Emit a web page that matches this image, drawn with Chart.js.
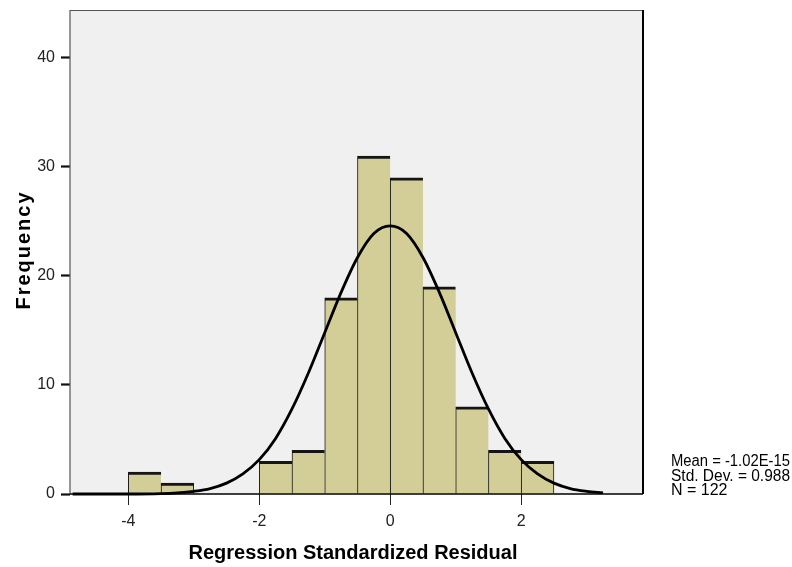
<!DOCTYPE html>
<html>
<head>
<meta charset="utf-8">
<script src="https://cdn.jsdelivr.net/npm/chart.js@4/dist/chart.umd.min.js"></script>
<style>
html,body{margin:0;padding:0;background:#fff;}
#wrap{width:792px;height:567px;position:relative;}
</style>
</head>
<body>
<div id="wrap"><canvas id="c" width="792" height="567"></canvas></div>
<script>
// Histogram bins (centres, bin width 0.5) and frequencies
const binCenters = [-3.75, -3.25, -1.75, -1.25, -0.75, -0.25, 0.25, 0.75, 1.25, 1.75, 2.25];
const frequencies = [2, 1, 3, 4, 18, 31, 29, 19, 8, 4, 3];
// Normal curve, values
const curveX = [-4.85, -4.5, -4.0, -3.5, -3.25, -3.0, -2.75, -2.5, -2.25, -2.0, -1.75, -1.5, -1.25, -1.0, -0.75, -0.5, -0.25, 0, 0.25, 0.5, 0.75, 1.0, 1.25, 1.5, 1.75, 2.0, 2.25, 2.5, 2.75, 3.0, 3.25];
const curveY = [0, 0, 0, 0.04, 0.11, 0.25, 0.5, 1.0, 1.85, 3.15, 5.1, 7.8, 11.1, 14.8, 18.5, 21.7, 23.9, 24.6, 23.9, 21.7, 18.5, 14.8, 11.1, 7.8, 5.1, 3.15, 1.85, 1.0, 0.5, 0.25, 0.11];
const xTicks = [-4, -2, 0, 2];
const yTicks = [0, 10, 20, 30, 40];
const xTitle = 'Regression Standardized Residual';
const yTitle = 'Frequency';
const statsLines = ['Mean = -1.02E-15', 'Std. Dev. = 0.988', 'N = 122'];

const NARROW = "'Liberation Sans Narrow', 'Arial Narrow', 'Liberation Sans', Arial, sans-serif";
const SANS = "'Liberation Sans', Arial, sans-serif";

const barData = binCenters.map((x, i) => ({x: x, y: frequencies[i]}));
const curveData = curveX.map((x, i) => ({x: x, y: curveY[i]}));

const decor = {
  id: 'decor',
  beforeDraw(chart) {
    const {ctx, chartArea: a} = chart;
    ctx.save();
    ctx.fillStyle = '#ffffff';
    ctx.fillRect(0, 0, chart.width, chart.height);
    ctx.fillStyle = '#f0f0f0';
    ctx.fillRect(a.left, a.top, a.right - a.left, a.bottom - a.top);
    ctx.restore();
  },
  afterDraw(chart) {
    const {ctx, chartArea: a} = chart;
    ctx.save();
    // frame
    ctx.strokeStyle = '#555';
    ctx.lineWidth = 1.2;
    ctx.beginPath();
    ctx.moveTo(a.left, a.bottom); ctx.lineTo(a.left, a.top + 0.5); ctx.lineTo(a.right, a.top + 0.5);
    ctx.stroke();
    ctx.strokeStyle = '#000';
    ctx.lineWidth = 2;
    ctx.beginPath();
    ctx.moveTo(a.right, a.top); ctx.lineTo(a.right, a.bottom);
    ctx.stroke();
    ctx.lineWidth = 1.5;
    ctx.beginPath();
    ctx.moveTo(a.left, a.bottom); ctx.lineTo(a.right, a.bottom);
    ctx.stroke();
    // titles
    ctx.fillStyle = '#000';
    ctx.font = 'bold 20px ' + SANS;
    ctx.textAlign = 'center';
    ctx.textBaseline = 'alphabetic';
    ctx.fillText(xTitle, 353, 559);
    ctx.save();
    ctx.translate(30, 250);
    ctx.rotate(-Math.PI / 2);
    try { ctx.letterSpacing = '2px'; } catch (e) {}
    ctx.fillText(yTitle, 0, 0);
    ctx.restore();
    // stats
    ctx.font = '16px ' + NARROW;
    ctx.textAlign = 'left';
    statsLines.forEach((t, i) => ctx.fillText(t, 671, 466 + i * 14.5, 119));
    ctx.restore();
  }
};

new Chart(document.getElementById('c'), {
  type: 'bar',
  data: {
    datasets: [
      {
        type: 'line',
        label: 'Normal',
        data: curveData,
        borderColor: '#000',
        borderWidth: 2.8,
        pointRadius: 0,
        fill: false,
        cubicInterpolationMode: 'monotone',
        clip: false,
        order: 0
      },
      {
        type: 'bar',
        label: 'Frequency',
        data: barData,
        backgroundColor: 'rgb(211,206,152)',
        borderColor: '#151515',
        borderSkipped: false,
        borderWidth: (c) => {
          const i = c.dataIndex;
          const next = binCenters[i + 1];
          const runEnd = next === undefined || Math.abs(next - binCenters[i] - 0.5) > 1e-6;
          return {top: 3, left: 1, right: runEnd ? 1 : 0, bottom: 0};
        },
        barPercentage: 1,
        categoryPercentage: 1,
        grouped: false,
        order: 1
      }
    ]
  },
  options: {
    responsive: false,
    animation: false,
    events: [],
    layout: {padding: {left: 0, right: 149, top: 10, bottom: 0}},
    plugins: {legend: {display: false}, tooltip: {enabled: false}, title: {display: false}},
    scales: {
      x: {
        type: 'linear',
        min: -4.89,
        max: 3.86,
        offset: false,
        afterBuildTicks: (s) => { s.ticks = xTicks.map(v => ({value: v})); },
        afterFit: (s) => { s.height = 73; s.paddingLeft = 0; s.paddingRight = 0; },
        grid: {offset: false, drawOnChartArea: false, drawTicks: true, tickLength: 11, tickWidth: 1, tickColor: '#222'},
        border: {display: false},
        ticks: {color: '#222', font: {family: NARROW, size: 16}, padding: 7, maxRotation: 0, autoSkip: false}
      },
      y: {
        type: 'linear',
        min: 0,
        max: 44.4,
        afterBuildTicks: (s) => { s.ticks = yTicks.map(v => ({value: v})); },
        afterFit: (s) => { s.width = 70; s.paddingTop = 0; s.paddingBottom = 0; },
        grid: {offset: false, drawOnChartArea: false, drawTicks: true, tickLength: 9, tickWidth: 2.2, tickColor: '#111'},
        border: {display: false},
        ticks: {color: '#222', font: {family: NARROW, size: 16}, padding: 6}
      }
    }
  },
  plugins: [decor]
});
</script>
</body>
</html>
